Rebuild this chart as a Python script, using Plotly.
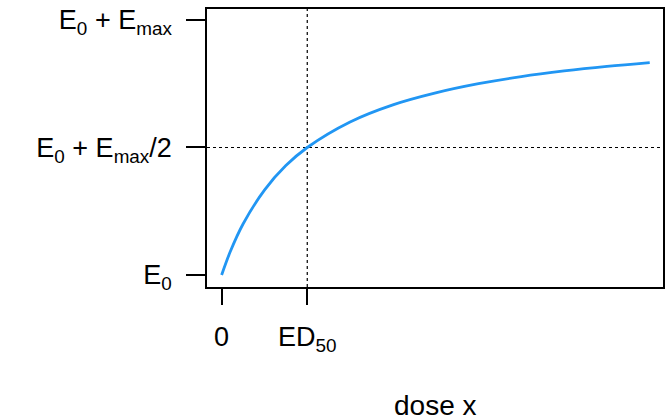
import plotly.graph_objects as go

# Emax dose-response curve (dose in units of ED50)
dose = [0, 0.1, 0.25, 0.5, 0.75, 1, 1.5, 2, 2.5, 3, 3.5, 4, 4.5, 5]
response = [0, 0.091, 0.2, 0.333, 0.429, 0.5, 0.6, 0.667, 0.714, 0.75, 0.778, 0.8, 0.818, 0.833]
ed50 = 1
half_effect = 0.5

x_tickvals = [0, 1]
x_ticktext = ["0", "ED<sub>50</sub>"]
y_tickvals = [0, 0.5, 1]
y_ticktext = ["E<sub>0</sub>", "E<sub>0</sub> + E<sub>max</sub>/2", "E<sub>0</sub> + E<sub>max</sub>"]
x_title = "dose x"

FONT = "Liberation Sans, Arial, sans-serif"
FS = 27

fig = go.Figure()
fig.add_trace(go.Scatter(
    x=dose, y=response, mode="lines",
    line=dict(color="#2196F3", width=2.8, shape="spline"),
    showlegend=False, hoverinfo="skip",
))

fig.add_shape(type="line", xref="x", yref="paper", x0=ed50, x1=ed50, y0=0, y1=1,
              line=dict(color="black", width=1.2, dash="dot"), layer="below")
fig.add_shape(type="line", xref="paper", yref="y", x0=0, x1=1, y0=half_effect, y1=half_effect,
              line=dict(color="black", width=1.2, dash="dot"), layer="below")

fig.add_annotation(text=x_title, xref="paper", yref="paper", x=0.5, y=-0.428,
                   xanchor="center", yanchor="middle", showarrow=False,
                   font=dict(family=FONT, size=28, color="black"))

fig.update_layout(
    width=666, height=420,
    margin=dict(l=207, r=1, t=9, b=133),
    paper_bgcolor="white", plot_bgcolor="white",
    font=dict(family=FONT, size=FS, color="black"),
    xaxis=dict(range=[-0.171, 5.155], tickvals=x_tickvals, ticktext=x_ticktext,
               showgrid=False, zeroline=False, showline=True, mirror=True,
               linecolor="black", linewidth=1.5, ticks="outside", ticklen=16,
               tickwidth=1.5, tickcolor="black", ticklabelstandoff=9,
               tickfont=dict(family=FONT, size=FS, color="black")),
    yaxis=dict(range=[-0.047, 1.043], tickvals=y_tickvals, ticktext=y_ticktext,
               showgrid=False, zeroline=False, showline=True, mirror=True,
               linecolor="black", linewidth=1.5, ticks="outside", ticklen=19,
               tickwidth=1.5, tickcolor="black", ticklabelstandoff=9,
               tickfont=dict(family=FONT, size=FS, color="black")),
)

fig.write_html("out.html")
